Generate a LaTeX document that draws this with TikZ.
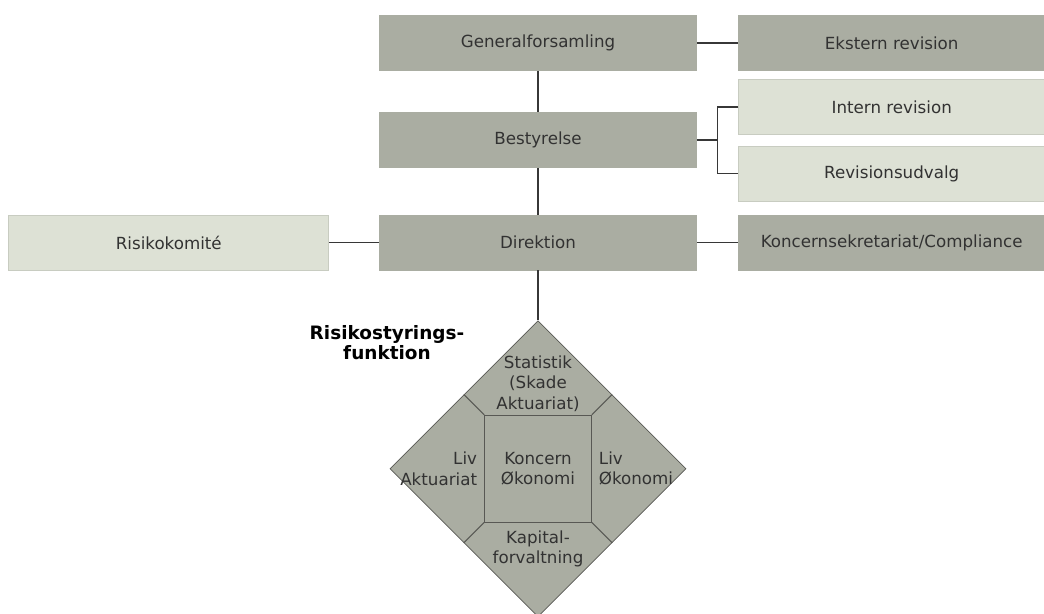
\documentclass[tikz,border=0pt]{standalone}
\usepackage{fontspec}
\setmainfont{DejaVu Sans}
\usepackage{xcolor}
\usepackage{tikz}
\usetikzlibrary{shapes.geometric, positioning}
\definecolor{boxdark}{RGB}{170,173,162}
\definecolor{boxlight}{RGB}{221,225,213}
\definecolor{edgelight}{RGB}{200,204,193}
\definecolor{edgedark}{RGB}{88,88,84}
\definecolor{linegray}{RGB}{55,55,55}
\definecolor{textgray}{RGB}{50,50,50}
\tikzstyle{board} = [rectangle, minimum width=6.34cm, minimum height=1.1cm, text centered, draw=boxdark, fill=boxdark, text=textgray, font=\fontsize{9.5}{11.5}\selectfont]
\tikzstyle{darkside} = [rectangle, minimum width=6.12cm, minimum height=1.1cm, text centered, draw=boxdark, fill=boxdark, text=textgray, font=\fontsize{9.5}{11.5}\selectfont]
\tikzstyle{lightside} = [rectangle, minimum width=6.12cm, minimum height=1.1cm, text centered, draw=edgelight, fill=boxlight, text=textgray, font=\fontsize{9.5}{11.5}\selectfont]
\tikzstyle{quad} = [align=center, inner sep=1pt, text=textgray, font=\fontsize{9.5}{11.5}\selectfont]
\tikzstyle{heading} = [align=center, inner sep=1pt, text=black, font=\fontsize{10.5}{11.5}\selectfont\bfseries]
\tikzstyle{link} = [draw=linegray, line width=0.9pt]
\tikzstyle{divider} = [draw=edgedark, line width=0.6pt]

\begin{document}
\begin{tikzpicture}[node distance=2cm]
\useasboundingbox (0,0) rectangle (20.88,-12.28);

% Nodes for main column
\node (direktion) [board] at (10.76,-4.85) {Direktion};
\node (bestyrelse) [board, above of=direktion, yshift=0.05cm] {Bestyrelse};
\node (general) [board, above of=bestyrelse, yshift=-0.06cm] {Generalforsamling};

% Nodes for side boxes
\node (ekstern) [darkside, right=0.83cm of general] {Ekstern revision};
\node (intern) [lightside, right=0.83cm of bestyrelse, yshift=0.66cm] {Intern revision};
\node (udvalg) [lightside, below=0.22cm of intern] {Revisionsudvalg};
\node (sekretariat) [darkside, right=0.83cm of direktion] {Koncernsekretariat/Compliance};
\node (komite) [lightside, minimum width=6.4cm, left=1cm of direktion] {Risikokomité};

% Nodes for risk function
\node (risiko) [diamond, draw=edgedark, fill=boxdark, minimum size=5.92cm, inner sep=0pt, below=1cm of direktion] {};
\node (koncern) [quad, rectangle, draw=edgedark, minimum size=2.14cm] at (risiko) {Koncern\\Økonomi};
\node (statistik) [quad, node distance=1.7cm, above of=koncern] {Statistik\\(Skade\\Aktuariat)};
\node (livakt) [quad, align=right, left=0.1cm of koncern] {Liv\\Aktuariat};
\node (livoko) [quad, align=left, right=0.1cm of koncern] {Liv\\Økonomi};
\node (kapital) [quad, node distance=1.6cm, below of=koncern] {Kapital-\\forvaltning};
\node (funktion) [heading] at ([xshift=-3.02cm, yshift=-0.44cm]risiko.north) {Risikostyrings-\\funktion};

% Dividers in the diamond
\draw [divider] (koncern.north west) -- (risiko.north west);
\draw [divider] (koncern.north east) -- (risiko.north east);
\draw [divider] (koncern.south west) -- (risiko.south west);
\draw [divider] (koncern.south east) -- (risiko.south east);

% Connectors for main column
\draw [link] (general) -- (bestyrelse);
\draw [link] (bestyrelse) -- (direktion);
\draw [link] (direktion) -- (risiko);

% Connectors to side boxes
\draw [link] (general) -- (ekstern);
\draw [link] (direktion) -- (sekretariat);
\draw [link] (komite) -- (direktion);
\draw [link] (bestyrelse.east) -- ++(0.41,0) coordinate (fork);
\draw [link] (intern.west) -| (fork) |- (udvalg.west);

\end{tikzpicture}
\end{document}
